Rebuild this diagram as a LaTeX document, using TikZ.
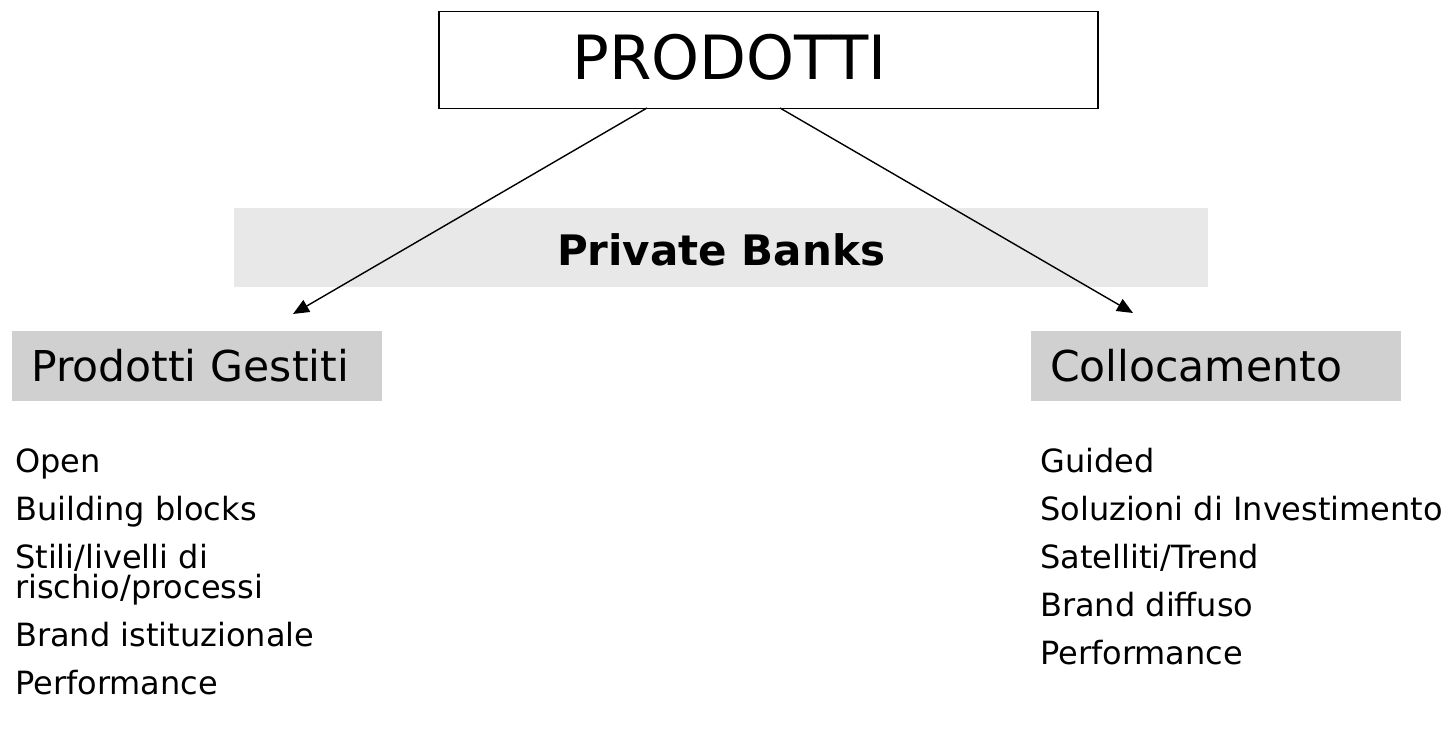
\documentclass[tikz,border=0pt]{standalone}
\usepackage{fontspec}
\setmainfont{DejaVu Sans}
\usetikzlibrary{arrows.meta}
\definecolor{bandgray}{gray}{0.91}
\definecolor{headgray}{gray}{0.816}
\begin{document}
\begin{tikzpicture}[x=1pt,y=-1pt,
  conn/.style={line width=1.4pt,-{Triangle[length=16pt,width=13.5pt]}},
  headbox/.style={fill=headgray,anchor=north west,inner xsep=19pt,inner ysep=0pt,
    minimum width=370pt,minimum height=70pt,text width=332pt,align=left,
    text height=32pt,font=\fontsize{42.5}{50}\selectfont},
  item/.style={anchor=base west,inner sep=0pt,align=left,
    font=\fontsize{32}{30}\selectfont}]
\useasboundingbox (0,0) rectangle (1452,741);

% title box
\node[draw,line width=1.5pt,anchor=north west,inner xsep=134pt,inner ysep=0pt,
  minimum width=659pt,minimum height=97pt,text width=391pt,align=left,
  text height=40pt,font=\fontsize{61}{70}\selectfont] (prod) at (438,10.7) {PRODOTTI};

% band
\node[fill=bandgray,inner sep=0pt,minimum width=974pt,minimum height=79pt,
  text height=37pt,font=\fontsize{42}{50}\selectfont\bfseries] (band) at (721,247.5) {Private Banks};

% category boxes
\node[headbox] (gest) at (12,331) {Prodotti Gestiti};
\node[headbox] (coll) at (1031,331) {Collocamento};

% connectors
\coordinate (s1) at (647,108);
\coordinate (s2) at (780,108);
\coordinate (t1) at (293,314);
\coordinate (t2) at (1133,313);
\draw[conn] (s1) -- (t1);
\draw[conn] (s2) -- (t2);

% left list
\node[item] (g1) at (15,472) {Open};
\node[item] (g2) at (15,520) {Building blocks};
\node[item] (g3) at (15,598) {Stili/livelli di\\rischio/processi};
\node[item] (g4) at (15,646) {Brand istituzionale};
\node[item] (g5) at (15,694) {Performance};

% right list
\node[item] (c1) at (1040,472) {Guided};
\node[item] (c2) at (1040,520) {Soluzioni di Investimento};
\node[item] (c3) at (1040,568) {Satelliti/Trend};
\node[item] (c4) at (1040,616) {Brand diffuso};
\node[item] (c5) at (1040,664) {Performance};
\end{tikzpicture}
\end{document}
